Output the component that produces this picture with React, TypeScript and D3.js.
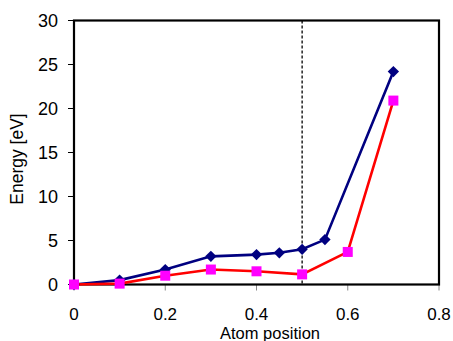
import * as d3 from "d3";

// atom positions and energies
const blueX = [0, 0.1, 0.2, 0.3, 0.4, 0.45, 0.5, 0.55, 0.7];
const blueY = [0, 0.5, 1.7, 3.2, 3.4, 3.6, 4.0, 5.1, 24.2];
const redX = [0, 0.1, 0.2, 0.3, 0.4, 0.5, 0.6, 0.7];
const redY = [0, 0.1, 1.0, 1.7, 1.5, 1.15, 3.7, 20.9];
const xTicks = [0, 0.2, 0.4, 0.6, 0.8];
const yTicks = [0, 5, 10, 15, 20, 25, 30];
const markerX = 0.5;

const W = 453;
const H = 341;
const margin = { top: 20.5, right: 14, bottom: 56.5, left: 74 };

export default function App() {
  const x = d3.scaleLinear().domain([0, 0.8]).range([margin.left, W - margin.right]);
  const y = d3.scaleLinear().domain([0, 30]).range([H - margin.bottom, margin.top]);

  const line = d3
    .line<[number, number]>()
    .x((d) => x(d[0]))
    .y((d) => y(d[1]));

  const blue: [number, number][] = blueX.map((v, i) => [v, blueY[i]]);
  const red: [number, number][] = redX.map((v, i) => [v, redY[i]]);

  const font = "'Liberation Sans', Arial, sans-serif";
  const left = x(0);
  const right = x(0.8);
  const top = y(30);
  const bottom = y(0);

  return (
    <svg
      width={W}
      height={H}
      style={{ position: "absolute", left: 0, top: 0, background: "#fff" }}
      fontFamily={font}
    >
      {/* y ticks */}
      {yTicks.map((t) => (
        <g key={"y" + t}>
          <line x1={left - 6} x2={left} y1={y(t)} y2={y(t)} stroke="#000" strokeWidth={1} />
          <text x={left - 16} y={y(t)} dy="0.36em" textAnchor="end" fontSize={18} fill="#000">
            {t}
          </text>
        </g>
      ))}
      {/* x ticks */}
      {xTicks.map((t) => (
        <g key={"x" + t}>
          <line x1={x(t)} x2={x(t)} y1={bottom} y2={bottom + 6} stroke="#888" strokeWidth={1} />
          <text x={x(t)} y={bottom + 35.5} textAnchor="middle" fontSize={17} fill="#000">
            {t}
          </text>
        </g>
      ))}

      {/* dashed marker */}
      <line
        x1={x(markerX)}
        x2={x(markerX)}
        y1={top}
        y2={bottom}
        stroke="#000"
        strokeWidth={1.3}
        strokeDasharray="3,2"
      />

      {/* plot frame */}
      <rect x={left} y={top} width={right - left} height={bottom - top} fill="none" stroke="#000" strokeWidth={2.2} />

      {/* series */}
      <path d={line(blue) ?? ""} fill="none" stroke="#000080" strokeWidth={2.6} />
      <path d={line(red) ?? ""} fill="none" stroke="#ff0000" strokeWidth={2.6} />

      {blue.map((d, i) => (
        <rect
          key={"b" + i}
          x={x(d[0]) - 4}
          y={y(d[1]) - 4}
          width={8}
          height={8}
          fill="#000080"
          transform={`rotate(45 ${x(d[0])} ${y(d[1])})`}
        />
      ))}
      {red.map((d, i) => (
        <rect key={"r" + i} x={x(d[0]) - 5} y={y(d[1]) - 5} width={10} height={10} fill="#ff00ff" />
      ))}

      {/* axis titles */}
      <text x={270} y={H - 2} textAnchor="middle" fontSize={16.5} fill="#000">
        Atom position
      </text>
      <text
        transform={`translate(23, 159) rotate(-90)`}
        textAnchor="middle"
        fontSize={17.5}
        fill="#000"
      >
        Energy [eV]
      </text>
    </svg>
  );
}
